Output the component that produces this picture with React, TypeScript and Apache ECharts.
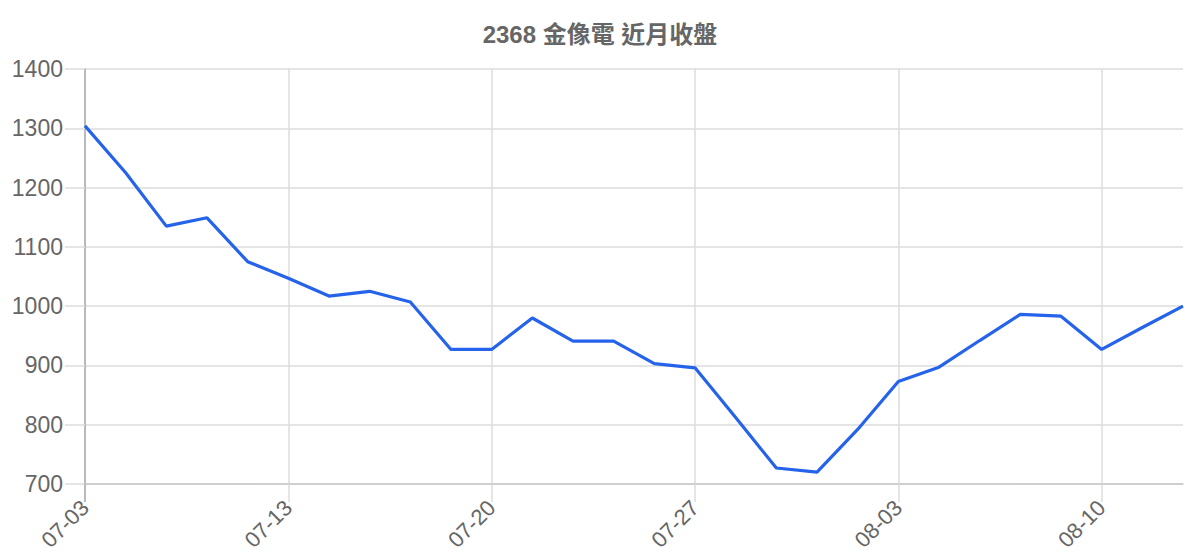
import React, { useEffect, useRef } from 'react'
import * as echarts from 'echarts'

const titleText = '2368 金像電 近月收盤'

const dates = [
  '07-03', '07-06', '07-07', '07-08', '07-10',
  '07-13', '07-14', '07-15', '07-16', '07-17',
  '07-20', '07-21', '07-22', '07-23', '07-24',
  '07-27', '07-28', '07-29', '07-30', '07-31',
  '08-03', '08-04', '08-05', '08-06', '08-07',
  '08-10', '08-11', '08-12',
]

const closes = [
  1304, 1225, 1135, 1149, 1075,
  1047, 1017, 1025, 1007, 927,
  927, 980, 941, 941, 903,
  896, 812, 727, 720, 792,
  873, 897, 942, 986, 983,
  927, 964, 1000,
]

const yMin = 700
const yMax = 1400
const yStep = 100

const fontFamily = '"Liberation Sans", Arial, "Noto Sans CJK TC", sans-serif'

export default function App() {
  const chartRef = useRef<HTMLDivElement>(null)

  useEffect(() => {
    if (!chartRef.current) {
      return
    }

    const chart = echarts.init(chartRef.current, null, { renderer: 'svg' })

    const gridColor = '#dddddd'

    const option = {
      animation: false,
      title: {
        text: titleText,
        left: 'center',
        top: 17,
        textStyle: {
          color: '#666666',
          fontSize: 24,
          fontWeight: 'bold',
          fontFamily,
        },
      },
      grid: {
        left: 85,
        right: 17,
        top: 69,
        bottom: 76,
        containLabel: false,
      },
      xAxis: [
        {
          type: 'category',
          data: dates,
          boundaryGap: false,
          axisLine: {
            lineStyle: { color: '#c8c8c8', width: 1.5 },
          },
          axisTick: {
            interval: 4,
            length: 18,
            lineStyle: { color: gridColor, width: 1.5 },
          },
          axisLabel: {
            interval: 4,
            rotate: 45,
            margin: 20,
            color: '#666666',
            fontSize: 22,
            fontFamily,
          },
          splitLine: {
            show: true,
            interval: 4,
            lineStyle: { color: gridColor, width: 1.5 },
          },
        },
        {
          // darker first tick, continuing the y axis line below the x axis
          type: 'category',
          data: dates,
          boundaryGap: false,
          position: 'bottom',
          axisLine: { show: false },
          axisLabel: { show: false },
          splitLine: { show: false },
          axisTick: {
            interval: (index: number) => index === 0,
            length: 18,
            lineStyle: { color: '#aaaaaa', width: 1.5 },
          },
        },
      ],
      yAxis: {
        type: 'value',
        min: yMin,
        max: yMax,
        interval: yStep,
        axisLine: {
          show: true,
          lineStyle: { color: '#aaaaaa', width: 1.5 },
        },
        axisTick: {
          show: true,
          length: 20,
          lineStyle: { color: gridColor, width: 1.5 },
        },
        axisLabel: {
          margin: 22,
          color: '#666666',
          fontSize: 23,
          fontFamily,
          formatter: (value: number) => String(value),
        },
        splitLine: {
          lineStyle: { color: gridColor, width: 1.5 },
        },
      },
      series: [
        {
          name: '收盤',
          type: 'line',
          xAxisIndex: 0,
          data: closes,
          showSymbol: false,
          symbol: 'none',
          lineStyle: { color: '#2563eb', width: 3.2 },
          itemStyle: { color: '#2563eb' },
        },
      ],
    }

    chart.setOption(option)

    return () => {
      chart.dispose()
    }
  }, [])

  return <div ref={chartRef} style={{ width: 1200, height: 560, margin: -8 }} />
}
